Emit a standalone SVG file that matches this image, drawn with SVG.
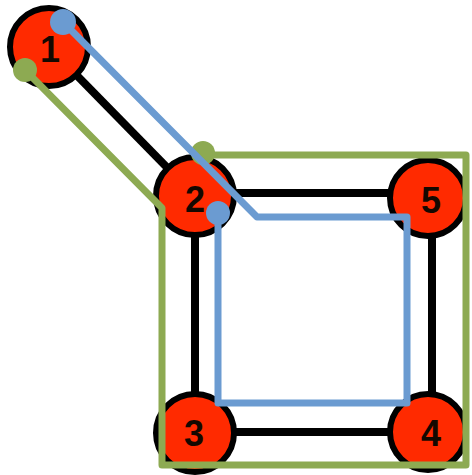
<svg xmlns="http://www.w3.org/2000/svg" width="472" height="475" viewBox="0 0 472 475">
<style>
.edge{stroke:#000;stroke-width:8;fill:none}
.node circle{fill:#ff2a00;stroke:#000;stroke-width:6}
.node text{font-family:"Liberation Sans",Arial,sans-serif;font-weight:bold;font-size:36px;fill:#140800;text-anchor:middle;dominant-baseline:central}
.green{stroke:#8daa52;stroke-width:7;fill:none;stroke-linejoin:round}
.blue{stroke:#6b9bd1;stroke-width:7;fill:none;stroke-linejoin:round}
</style>
<rect width="472" height="475" fill="#fff"/>
<g id="connectors">
<line class="edge" x1="49" y1="47" x2="195" y2="196"/>
<line class="edge" x1="195" y1="193" x2="429" y2="193"/>
<line class="edge" x1="195" y1="432" x2="428" y2="432"/>
<line class="edge" x1="195" y1="196" x2="195" y2="433"/>
<line class="edge" x1="432" y1="198" x2="432" y2="433"/>
</g>
<g id="node1" class="node"><circle cx="49" cy="47" r="39"/><text x="50" y="49">1</text></g>
<g id="node2" class="node"><circle cx="195" cy="196" r="39"/><text x="195" y="199">2</text></g>
<g id="node5" class="node"><circle cx="428" cy="198" r="38"/><text x="431" y="200">5</text></g>
<g id="node3" class="node"><circle cx="195" cy="433" r="39"/><text x="194" y="433">3</text></g>
<g id="node4" class="node"><circle cx="428" cy="432" r="38"/><text x="431" y="433">4</text></g>
<g id="green-path">
<polyline class="green" points="25,70 162,208 162,465 466,465 466,155 203,155"/>
<circle cx="25" cy="70" r="12" fill="#8daa52"/>
<circle cx="203" cy="153" r="12" fill="#8daa52"/>
</g>
<g id="blue-path">
<polyline class="blue" points="63,22 257,217 407,217 407,403 218,403 218,213"/>
<circle cx="63" cy="22" r="13" fill="#6b9bd1"/>
<circle cx="218" cy="213" r="12" fill="#6b9bd1"/>
</g>
</svg>
